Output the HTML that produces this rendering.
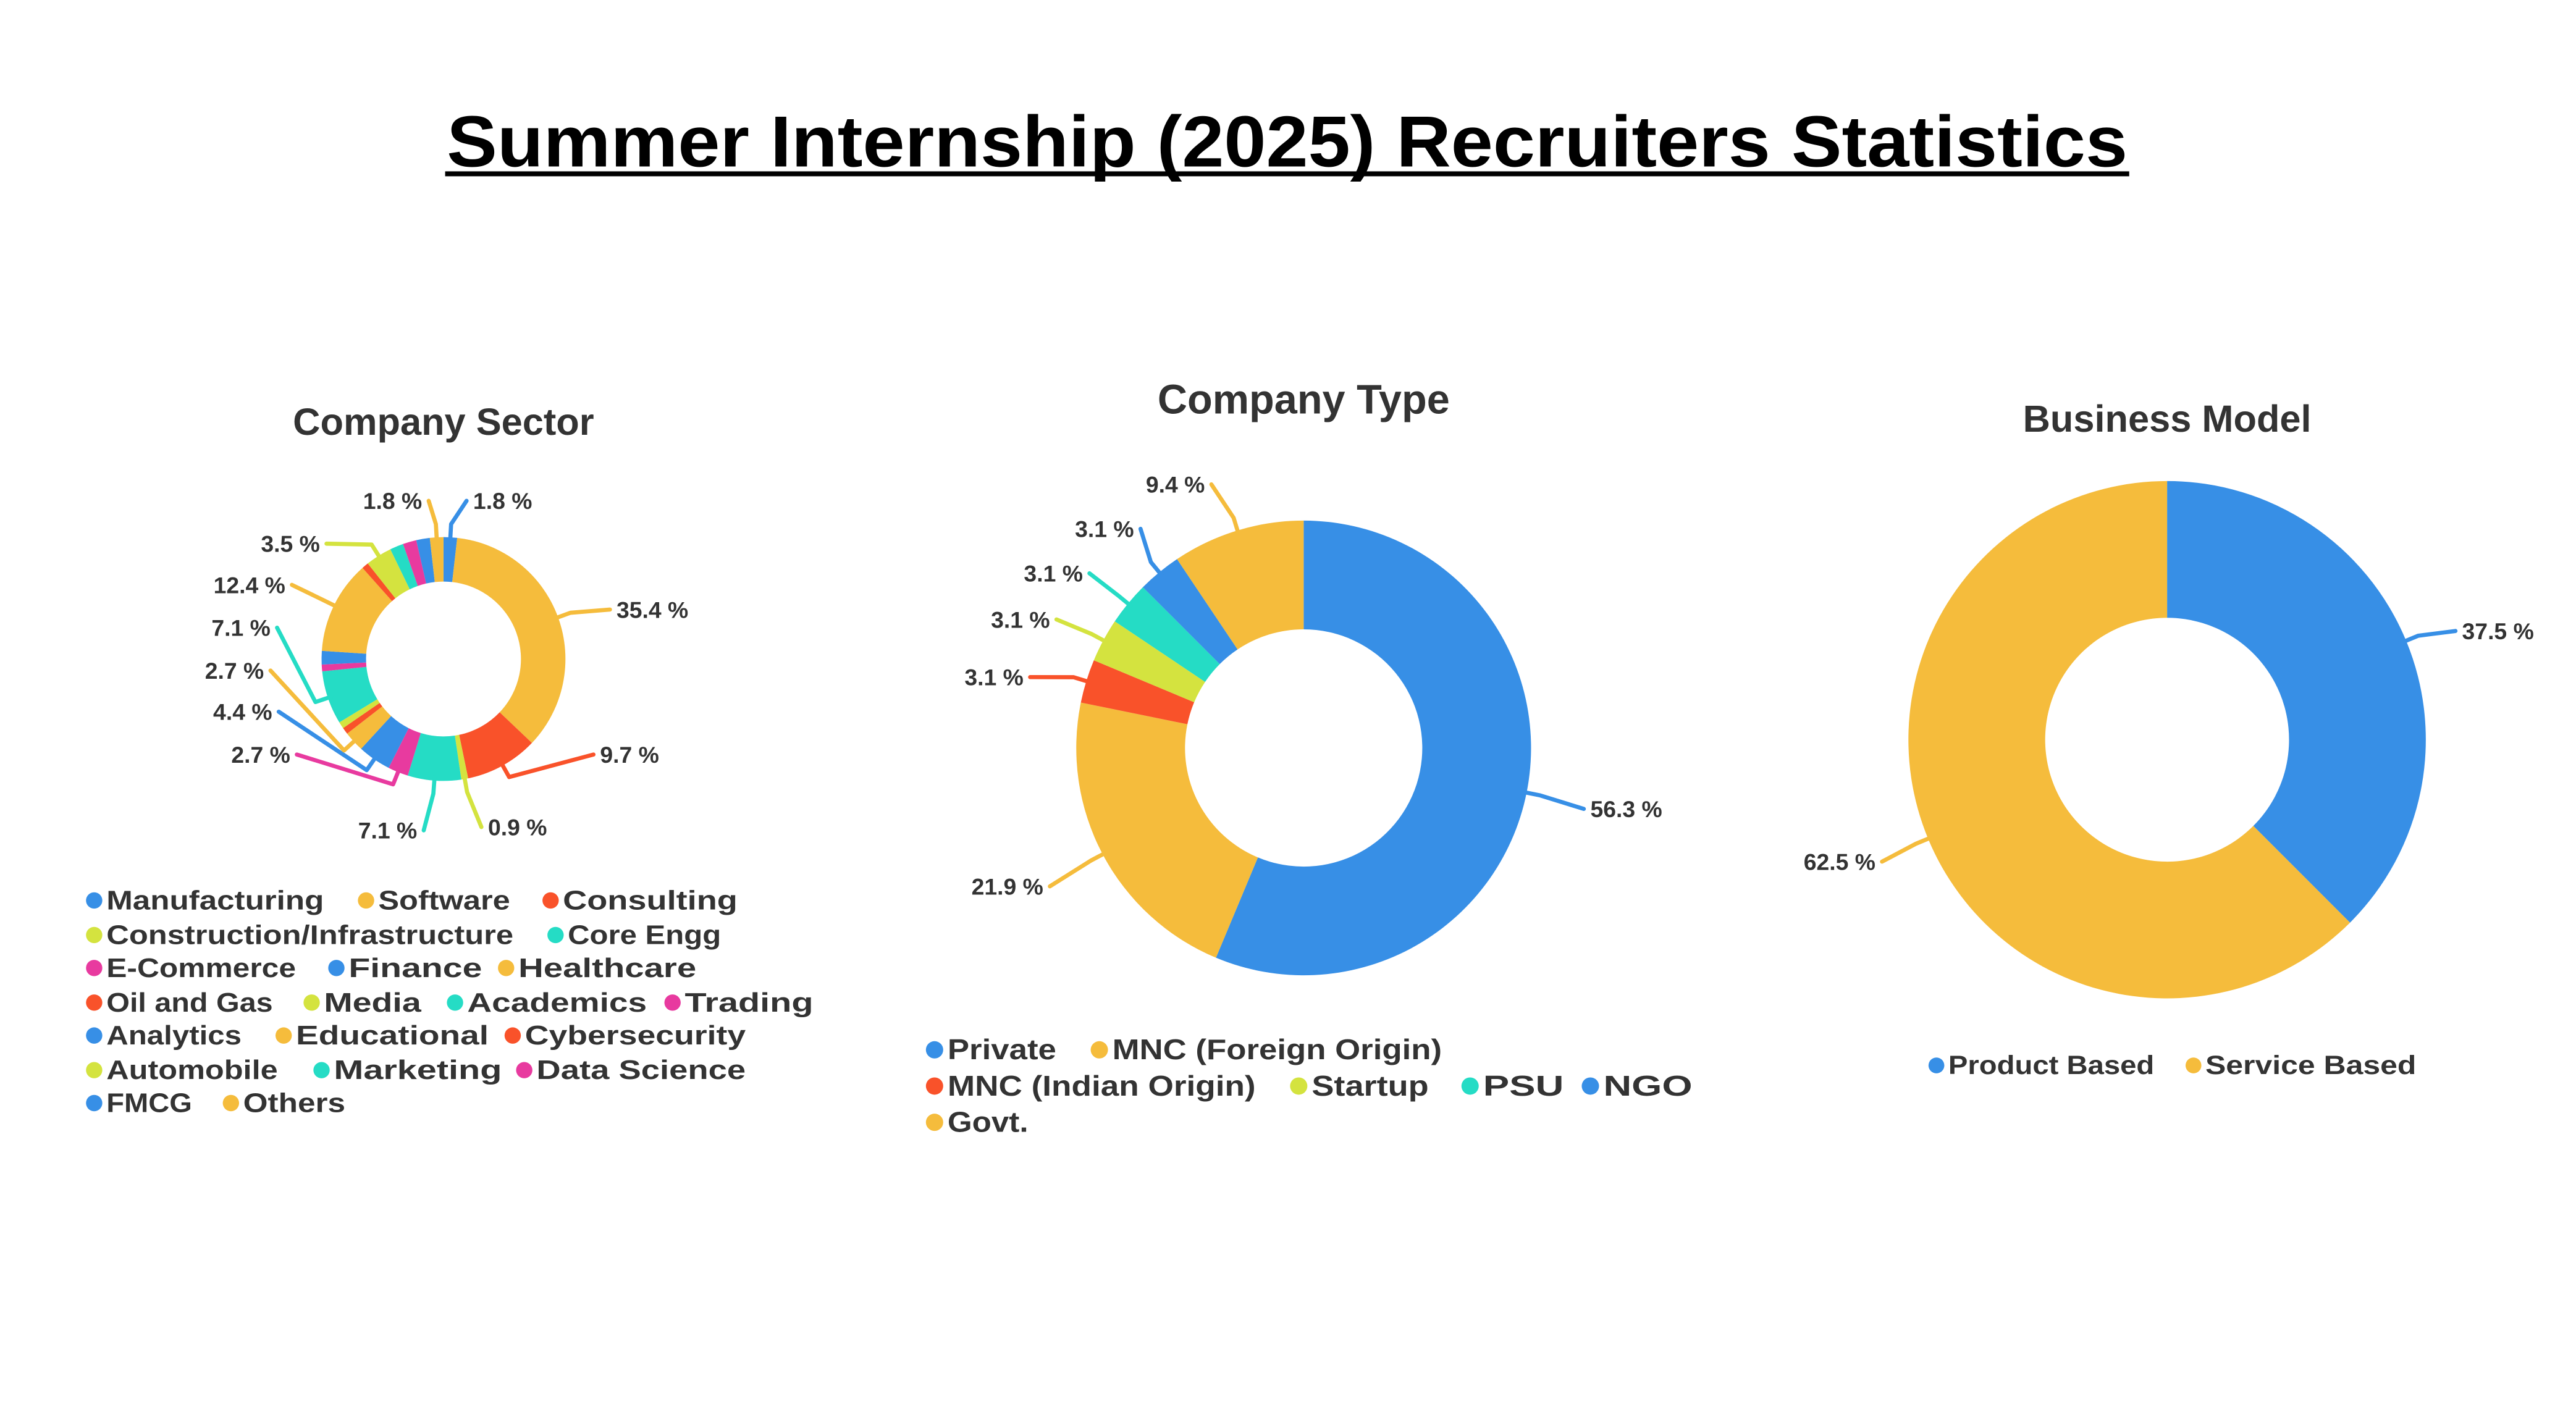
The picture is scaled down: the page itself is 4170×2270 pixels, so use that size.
<!DOCTYPE html>
<html><head><meta charset="utf-8"><style>
html,body{margin:0;padding:0;background:#fff;}
svg{display:block;}
text{font-family:"Liberation Sans",sans-serif;}
</style></head><body>
<svg id="page" width="4170" height="2270" viewBox="0 0 1563 851" xmlns="http://www.w3.org/2000/svg">
<rect width="1563" height="851" fill="#fff"/>
<text x="781" y="101" text-anchor="middle" font-size="44" font-weight="bold" fill="#000" textLength="1020" lengthAdjust="spacingAndGlyphs">Summer Internship (2025) Recruiters Statistics</text>
<rect x="270" y="104" width="1022" height="3" fill="#000"/>
<text x="269" y="264" text-anchor="middle" font-size="23" font-weight="bold" fill="#333">Company Sector</text>
<text x="791" y="251" text-anchor="middle" font-size="25" font-weight="bold" fill="#333">Company Type</text>
<text x="1315" y="262" text-anchor="middle" font-size="23" font-weight="bold" fill="#333">Business Model</text>
<g id="charts"></g>
<g id="legends"></g>
</svg>
<script>
const C={blue:"#378fe6",orange:"#f5bc3c",red:"#f9522a",lime:"#d4e33f",teal:"#25dcc5",pink:"#e83a9f"};
// Company Sector data
const sectorCategories=["Manufacturing","Software","Consulting","Construction/Infrastructure","Core Engg","E-Commerce","Finance","Healthcare","Oil and Gas","Media","Academics","Trading","Analytics","Educational","Cybersecurity","Automobile","Marketing","Data Science","FMCG","Others"];
const sectorValues=[1.8,35.4,9.7,0.9,7.1,2.7,4.4,2.7,0.9,0.9,7.1,0.9,1.8,12.4,0.9,3.5,1.8,1.8,1.8,1.8];
const sectorColors=["blue","orange","red","lime","teal","pink","blue","orange","red","lime","teal","pink","blue","orange","red","lime","teal","pink","blue","orange"];
// Company Type data
const typeCategories=["Private","MNC (Foreign Origin)","MNC (Indian Origin)","Startup","PSU","NGO","Govt."];
const typeValues=[56.3,21.9,3.1,3.1,3.1,3.1,9.4];
const typeColors=["blue","orange","red","lime","teal","blue","orange"];
// Business Model data
const bizCategories=["Product Based","Service Based"];
const bizValues=[37.5,62.5];
const bizColors=["blue","orange"];

const NS="http://www.w3.org/2000/svg";
const charts=document.getElementById('charts');
const legends=document.getElementById('legends');
function mk(tag,attrs,parent){const e=document.createElementNS(NS,tag);for(const k in attrs)e.setAttribute(k,attrs[k]);parent.appendChild(e);return e;}
function pt(cx,cy,r,a){return [cx+r*Math.cos(a),cy+r*Math.sin(a)];}

// label layout: index -> [labelX, labelY, anchor]
function donut(name,cx,cy,R,r,vals,cols,cats,labels){
  const g=mk('g',{},charts);
  
  
  const tot=vals.reduce((a,b)=>a+b,0);
  let acc=0;
  vals.forEach((v,i)=>{
    const a0=-Math.PI/2+acc/tot*2*Math.PI; acc+=v;
    const a1=-Math.PI/2+acc/tot*2*Math.PI;
    const large=(a1-a0)>Math.PI?1:0;
    const [x0,y0]=pt(cx,cy,R,a0),[x1,y1]=pt(cx,cy,R,a1),[x2,y2]=pt(cx,cy,r,a1),[x3,y3]=pt(cx,cy,r,a0);
    const p=mk('path',{d:`M${x0},${y0}A${R},${R} 0 ${large} 1 ${x1},${y1}L${x2},${y2}A${r},${r} 0 ${large} 0 ${x3},${y3}Z`,fill:C[cols[i]]},g);
    
    
    const L=labels[i];
    if(L){
      const am=(a0+a1)/2;
      const [sx,sy]=pt(cx,cy,R-2,am);
      const [mx,my]=pt(cx,cy,R+8,am);
      const ex=L[2]==='start'?L[0]-4:L[0]+4;
      const ln=mk('polyline',{points:`${sx},${sy} ${mx},${my} ${ex},${L[1]-5}`,fill:'none',stroke:C[cols[i]],'stroke-width':2.5,'stroke-linecap':'round','stroke-linejoin':'round'},g);
      
      
      const t=mk('text',{x:L[0],y:L[1],'text-anchor':L[2],'font-size':14,'font-weight':'bold',fill:'#333'},g);
      
      
      t.textContent=v.toFixed(1)+' %';
    }
  });
}
const sectorLabels={0:[287,309,'start'],1:[374,375,'start'],2:[364,463,'start'],3:[296,507,'start'],4:[253,509,'end'],5:[176,463,'end'],6:[165,437,'end'],7:[160,412,'end'],10:[164,386,'end'],13:[173,360,'end'],15:[194,335,'end'],19:[256,309,'end']};
donut('company-sector-donut',269,400,74,47,sectorValues,sectorColors,sectorCategories,sectorLabels);
const typeLabels={0:[965,496,'start'],1:[633,543,'end'],2:[621,416,'end'],3:[637,381,'end'],4:[657,353,'end'],5:[688,326,'end'],6:[731,299,'end']};
donut('company-type-donut',791,454,138,72,typeValues,typeColors,typeCategories,typeLabels);
const bizLabels={0:[1494,388,'start'],1:[1138,528,'end']};
donut('business-model-donut',1315,449,157,74,bizValues,bizColors,bizCategories,bizLabels);

function legend(name,items,fs){
  const g=mk('g',{},legends);
  
  
  items.forEach(([x,y,cat,col,w])=>{
    const e=mk('g',{},g);
    
    
    mk('circle',{cx:x,cy:y-fs*0.33,r:fs*0.3,fill:C[col]},e);
    const t=mk('text',{x:x+fs*0.45,y:y,'font-size':fs,'font-weight':'bold',fill:'#333',textLength:w,lengthAdjust:'spacingAndGlyphs'},e);
    t.textContent=cat;
  });
}
legend('sector-legend',[
 [57,552,'Manufacturing','blue',132],[222,552,'Software','orange',80],[334,552,'Consulting','red',106],
 [57,573,'Construction/Infrastructure','lime',247],[337,573,'Core Engg','teal',93],
 [57,593,'E-Commerce','pink',115],[204,593,'Finance','blue',81],[307,593,'Healthcare','orange',108],
 [57,614,'Oil and Gas','red',101],[189,614,'Media','lime',59],[276,614,'Academics','teal',109],[408,614,'Trading','pink',78],
 [57,634,'Analytics','blue',82],[172,634,'Educational','orange',117],[311,634,'Cybersecurity','red',134],
 [57,655,'Automobile','lime',104],[195,655,'Marketing','teal',102],[318,655,'Data Science','pink',127],
 [57,675,'FMCG','blue',52],[140,675,'Others','orange',62]],16.5);
legend('type-legend',[
 [567,643,'Private','blue',66],[667,643,'MNC (Foreign Origin)','orange',200],
 [567,665,'MNC (Indian Origin)','red',187],[788,665,'Startup','lime',71],[892,665,'PSU','teal',49],[965,665,'NGO','blue',54],
 [567,687,'Govt.','orange',49]],17.5);
legend('business-legend',[[1175,652,'Product Based','blue',125],[1331,652,'Service Based','orange',128]],16);
</script>
</body></html>
